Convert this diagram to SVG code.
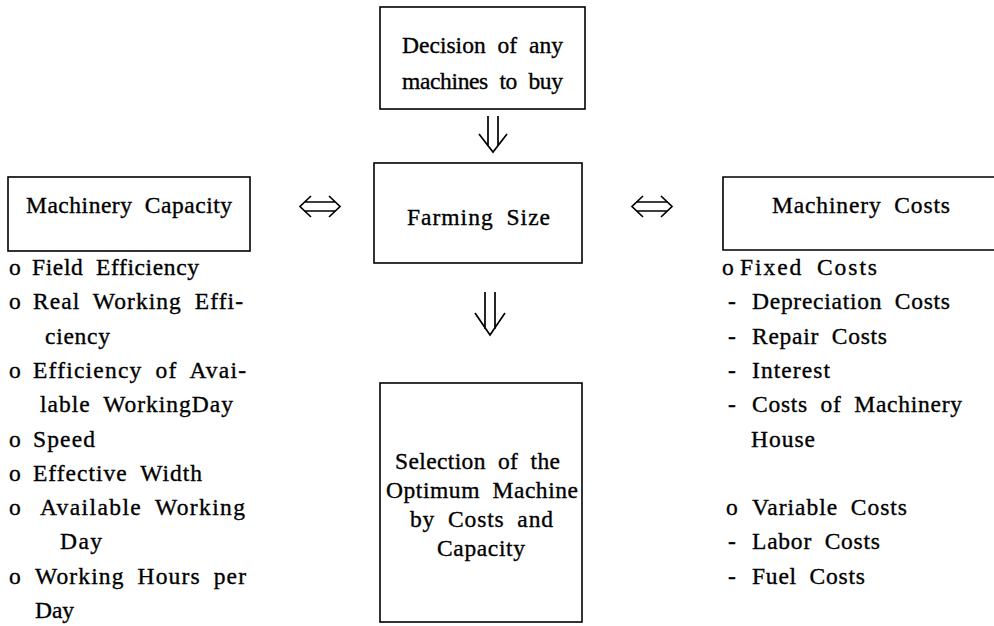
<svg xmlns="http://www.w3.org/2000/svg" width="994" height="626" viewBox="0 0 994 626">
<style>
.t{font-family:"Liberation Serif","Times New Roman",serif;font-size:23.5px;word-spacing:6px;fill:#000;stroke:#000;stroke-width:0.35}
.box{fill:none;stroke:#000;stroke-width:1.6}
.arr{fill:none;stroke:#000;stroke-width:1.7;stroke-linejoin:miter}
</style>
<rect width="994" height="626" fill="#fff"/>
<g id="node-decision">
<rect class="box" x="380" y="7" width="205" height="102"/>
<text class="t" x="402" y="53" textLength="161" lengthAdjust="spacing">Decision of any</text>
<text class="t" x="402" y="89" textLength="161" lengthAdjust="spacing">machines to buy</text>
</g>
<g id="node-farming">
<rect class="box" x="374" y="163" width="208" height="100"/>
<text class="t" x="407" y="225" textLength="143" lengthAdjust="spacing">Farming Size</text>
</g>
<g id="node-capacity">
<rect class="box" x="8" y="177" width="242" height="74"/>
<text class="t" x="26" y="213" textLength="206" lengthAdjust="spacing">Machinery Capacity</text>
</g>
<g id="node-costs">
<path class="box" d="M994,177 H723 V250 H994"/>
<text class="t" x="772" y="213" textLength="178" lengthAdjust="spacing">Machinery Costs</text>
</g>
<g id="node-selection">
<rect class="box" x="380" y="383" width="202" height="239"/>
<text class="t" x="395" y="469" textLength="165" lengthAdjust="spacing">Selection of the</text>
<text class="t" x="386" y="498" textLength="192" lengthAdjust="spacing">Optimum Machine</text>
<text class="t" x="410" y="527" textLength="143" lengthAdjust="spacing">by Costs and</text>
<text class="t" x="437" y="556" textLength="88" lengthAdjust="spacing">Capacity</text>
</g>
<g id="capacity-list">
<text class="t" x="9" y="275">o</text>
<text class="t" x="32" y="275" textLength="167" lengthAdjust="spacing">Field Efficiency</text>
<text class="t" x="9" y="309.3">o</text>
<text class="t" x="33" y="309.3" textLength="210" lengthAdjust="spacing">Real Working Effi-</text>
<text class="t" x="45" y="343.6" textLength="65" lengthAdjust="spacing">ciency</text>
<text class="t" x="9" y="377.9">o</text>
<text class="t" x="33" y="377.9" textLength="213" lengthAdjust="spacing">Efficiency of Avai-</text>
<text class="t" x="40" y="412.2" textLength="193" lengthAdjust="spacing">lable WorkingDay</text>
<text class="t" x="9" y="446.5">o</text>
<text class="t" x="33" y="446.5" textLength="62" lengthAdjust="spacing">Speed</text>
<text class="t" x="9" y="480.8">o</text>
<text class="t" x="33" y="480.8" textLength="169" lengthAdjust="spacing">Effective Width</text>
<text class="t" x="9" y="515.1">o</text>
<text class="t" x="40" y="515.1" textLength="205" lengthAdjust="spacing">Available Working</text>
<text class="t" x="60" y="549.4" textLength="42" lengthAdjust="spacing">Day</text>
<text class="t" x="9" y="583.7">o</text>
<text class="t" x="35" y="583.7" textLength="211" lengthAdjust="spacing">Working Hours per</text>
<text class="t" x="35" y="618" textLength="39" lengthAdjust="spacing">Day</text>
</g>
<g id="costs-list">
<text class="t" x="722" y="275">o</text>
<text class="t" x="740" y="275" textLength="137" lengthAdjust="spacing">Fixed Costs</text>
<text class="t" x="728" y="309.3">-</text>
<text class="t" x="752" y="309.3" textLength="198" lengthAdjust="spacing">Depreciation Costs</text>
<text class="t" x="728" y="343.6">-</text>
<text class="t" x="752" y="343.6" textLength="135" lengthAdjust="spacing">Repair Costs</text>
<text class="t" x="728" y="377.9">-</text>
<text class="t" x="752" y="377.9" textLength="78" lengthAdjust="spacing">Interest</text>
<text class="t" x="728" y="412.2">-</text>
<text class="t" x="752" y="412.2" textLength="210" lengthAdjust="spacing">Costs of Machinery</text>
<text class="t" x="751" y="446.5" textLength="64" lengthAdjust="spacing">House</text>
<text class="t" x="726" y="515.1">o</text>
<text class="t" x="752" y="515.1" textLength="155" lengthAdjust="spacing">Variable Costs</text>
<text class="t" x="728" y="549.4">-</text>
<text class="t" x="752" y="549.4" textLength="128" lengthAdjust="spacing">Labor Costs</text>
<text class="t" x="728" y="583.7">-</text>
<text class="t" x="752" y="583.7" textLength="113" lengthAdjust="spacing">Fuel Costs</text>
</g>
<g id="connectors">
<path class="arr" d="M488,116 V146 M498,116 V146 M479,134 L493,152 L507,134"/>
<path class="arr" d="M485,292 V329 M495,292 V329 M475,313 L490,335 L505,313"/>
<path class="arr" d="M304,202 H336 M304,211 H336 M311,196 L300,206.5 L311,217 M329,196 L340,206.5 L329,217"/>
<path class="arr" d="M636,202 H668 M636,211 H668 M643,196 L632,206.5 L643,217 M661,196 L672,206.5 L661,217"/>
</g>
</svg>
